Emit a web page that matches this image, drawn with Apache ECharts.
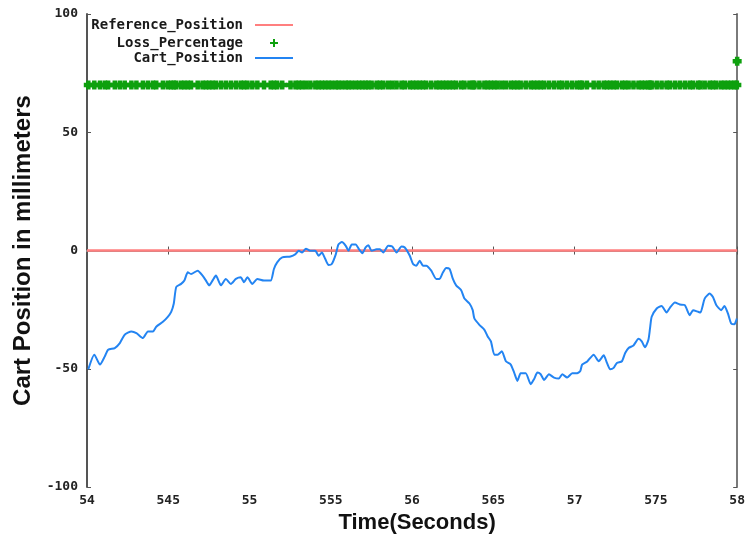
<!DOCTYPE html>
<html>
<head>
<meta charset="utf-8">
<script src="https://cdn.jsdelivr.net/npm/echarts@6/dist/echarts.min.js"></script>
<style>
  html, body { margin: 0; padding: 0; background: #ffffff; width: 100%; height: 100%; overflow: hidden; }
  #chart { width: 100vw; height: 100vh; }
</style>
</head>
<body>
<div id="chart"></div>
<script>
// Tick labels as printed on the axes
const xTickLabels = ['54', '545', '55', '555', '56', '565', '57', '575', '58'];
const yTickLabels = ['-100', '-50', '0', '50', '100'];

// Reference position (mm) over the run
const refTimes = [54, 58];
const refValues = [0, 0];

// Cart position samples: time (s) and position (mm)
const cartTimes = [
  54.008, 54.045, 54.080, 54.110, 54.130, 54.171, 54.202, 54.232, 54.273, 54.304,
  54.344, 54.375, 54.406, 54.426, 54.467, 54.497, 54.518, 54.534, 54.549, 54.579,
  54.599, 54.620, 54.640, 54.681, 54.711, 54.732, 54.752, 54.772, 54.793, 54.824,
  54.854, 54.885, 54.916, 54.946, 54.966, 54.987, 55.017, 55.048, 55.089, 55.130,
  55.150, 55.170, 55.201, 55.252, 55.283, 55.303, 55.323, 55.347, 55.374, 55.405,
  55.425, 55.445, 55.466, 55.486, 55.506, 55.531, 55.547, 55.568, 55.592, 55.609,
  55.629, 55.653, 55.674, 55.694, 55.714, 55.731, 55.751, 55.782, 55.802, 55.823,
  55.853, 55.878, 55.904, 55.935, 55.955, 55.986, 56.006, 56.026, 56.047, 56.067,
  56.087, 56.118, 56.149, 56.169, 56.190, 56.210, 56.231, 56.251, 56.271, 56.302,
  56.322, 56.353, 56.373, 56.383, 56.414, 56.445, 56.465, 56.485, 56.506, 56.526,
  56.552, 56.577, 56.607, 56.628, 56.648, 56.668, 56.699, 56.730, 56.750, 56.771,
  56.791, 56.812, 56.842, 56.873, 56.903, 56.924, 56.954, 56.985, 57.015, 57.035,
  57.046, 57.076, 57.117, 57.148, 57.179, 57.199, 57.219, 57.240, 57.260, 57.291,
  57.311, 57.332, 57.362, 57.393, 57.413, 57.433, 57.454, 57.464, 57.474, 57.505,
  57.535, 57.566, 57.586, 57.617, 57.647, 57.678, 57.708, 57.729, 57.760, 57.774,
  57.800, 57.831, 57.851, 57.872, 57.902, 57.922, 57.943, 57.963, 57.983, 57.998
];
const cartValues = [
  -50.2, -44.0, -48.2, -44.7, -41.9, -41.2, -39.1, -35.6, -34.2, -34.9,
  -37.0, -34.2, -34.2, -32.2, -30.1, -28.0, -25.9, -22.4, -15.4, -14.1,
  -12.7, -9.2, -9.9, -8.5, -10.6, -12.7, -14.7, -12.7, -10.6, -14.7,
  -12.0, -14.1, -12.0, -11.3, -13.4, -11.3, -14.1, -12.0, -12.7, -12.7,
  -7.8, -5.0, -2.9, -2.5, -1.5, -0.1, -0.8, 0.8, -0.1, -0.1,
  -2.2, -0.8, -3.6, -6.1, -5.7, -1.5, 2.6, 3.6, 2.0, -0.1,
  2.6, 2.6, 0.5, -1.1, 1.3, 2.2, -0.1, 0.5, 0.5, -0.8,
  2.0, 1.7, -0.8, 1.7, 1.3, -2.2, -5.7, -6.4, -4.3, -6.4,
  -6.4, -8.5, -12.0, -12.0, -9.2, -7.4, -7.8, -12.0, -14.7, -16.8,
  -20.3, -22.4, -25.2, -28.7, -31.4, -33.5, -36.3, -38.4, -44.0, -44.0,
  -42.6, -46.8, -48.2, -51.6, -55.1, -51.9, -51.9, -56.5, -54.4, -51.6,
  -52.3, -54.7, -52.3, -53.7, -54.1, -52.3, -53.7, -51.9, -51.9, -50.9,
  -48.2, -47.0, -44.0, -46.8, -44.3, -47.5, -50.2, -49.6, -47.5, -46.8,
  -43.3, -41.2, -40.1, -37.3, -38.4, -40.9, -37.7, -32.8, -28.0, -24.5,
  -23.4, -26.2, -24.2, -22.0, -22.8, -23.1, -27.3, -25.2, -25.9, -26.2,
  -20.3, -18.2, -19.6, -23.1, -25.2, -23.4, -26.6, -30.8, -31.2, -28.7
];

// Loss percentage, logged with every cart sample plus a final sample at 58 s
const lossTimes = cartTimes.concat([58.0]);
const lossValues = [
  70, 70, 70, 70, 70, 70, 70, 70, 70, 70,
  70, 70, 70, 70, 70, 70, 70, 70, 70, 70,
  70, 70, 70, 70, 70, 70, 70, 70, 70, 70,
  70, 70, 70, 70, 70, 70, 70, 70, 70, 70,
  70, 70, 70, 70, 70, 70, 70, 70, 70, 70,
  70, 70, 70, 70, 70, 70, 70, 70, 70, 70,
  70, 70, 70, 70, 70, 70, 70, 70, 70, 70,
  70, 70, 70, 70, 70, 70, 70, 70, 70, 70,
  70, 70, 70, 70, 70, 70, 70, 70, 70, 70,
  70, 70, 70, 70, 70, 70, 70, 70, 70, 70,
  70, 70, 70, 70, 70, 70, 70, 70, 70, 70,
  70, 70, 70, 70, 70, 70, 70, 70, 70, 70,
  70, 70, 70, 70, 70, 70, 70, 70, 70, 70,
  70, 70, 70, 70, 70, 70, 70, 70, 70, 70,
  70, 70, 70, 70, 70, 70, 70, 70, 70, 70,
  70, 70, 70, 70, 70, 70, 70, 70, 70, 70,
  80
];

const zip = (xs, ys) => xs.map((x, i) => [x, ys[i]]);

// Plus-shaped point markers: heavy one for the plot, lighter one for the legend key
const PLUS = 'path://M2.5,0H7.5V2.5H10V7.5H7.5V10H2.5V7.5H0V2.5H2.5Z';
const PLUS_KEY = 'path://M3,0H5V3H8V5H5V8H3V5H0V3H3Z';
const MONO = 'DejaVu Sans Mono';
const SANS = 'Liberation Sans';

const COLOR_REF = '#ff7f7f';
const COLOR_LOSS = '#0ea00e';
const COLOR_CART = '#2384f2';

const chart = echarts.init(document.getElementById('chart'), null, { renderer: 'canvas' });

const tickLabelStyle = {
  fontFamily: MONO, fontSize: 13, fontWeight: 'bold', color: '#222'
};

const legendText = (pad) => ({
  fontFamily: MONO, fontSize: 14, fontWeight: 'bold', color: '#1a1a1a', padding: [0, pad, 0, 0]
});

chart.setOption({
  animation: false,
  backgroundColor: '#ffffff',
  grid: { left: 87, right: 7, top: 14, bottom: 45, containLabel: false },
  legend: [
    {
      data: [{ name: 'Reference_Position', icon: 'rect' }],
      align: 'right', selectedMode: false, padding: 0, right: 455, top: 18,
      itemWidth: 38, itemHeight: 2, textStyle: legendText(7)
    },
    {
      data: [{ name: 'Loss_Percentage', icon: PLUS_KEY }],
      align: 'right', selectedMode: false, padding: 0, right: 470, top: 36,
      itemWidth: 8, itemHeight: 8, textStyle: legendText(22)
    },
    {
      data: [{ name: 'Cart_Position', icon: 'rect' }],
      align: 'right', selectedMode: false, padding: 0, right: 455, top: 51,
      itemWidth: 38, itemHeight: 2, textStyle: legendText(7)
    }
  ],
  xAxis: [
    {
      type: 'value', min: 54, max: 58, interval: 0.5, position: 'bottom',
      name: 'Time(Seconds)', nameLocation: 'middle', nameGap: 23,
      nameTextStyle: { fontFamily: SANS, fontSize: 22, fontWeight: 'bold', color: '#111', verticalAlign: 'top', padding: [0, 0, 0, 10] },
      axisLine: { show: true, lineStyle: { color: '#8c8c8c', width: 2 } },
      axisTick: { show: true, inside: true, length: 4, lineStyle: { color: '#555', width: 1 } },
      axisLabel: {
        show: true, margin: 7, showMaxLabel: true,
        formatter: (v, i) => xTickLabels[i],
        ...tickLabelStyle
      },
      splitLine: { show: false }
    },
    {
      type: 'value', min: 54, max: 58, interval: 0.5, position: 'top',
      axisLine: { show: true, lineStyle: { color: '#8c8c8c', width: 2 } },
      axisTick: { show: true, inside: true, length: 4, lineStyle: { color: '#555', width: 1 } },
      axisLabel: { show: false },
      splitLine: { show: false }
    }
  ],
  yAxis: [
    {
      type: 'value', min: -100, max: 100, interval: 50, position: 'left',
      name: 'Cart Position in millimeters', nameLocation: 'middle', nameGap: 52,
      nameTextStyle: { fontFamily: SANS, fontSize: 24, fontWeight: 'bold', color: '#111' },
      axisLine: { show: true, lineStyle: { color: '#555', width: 2 } },
      axisTick: { show: true, inside: true, length: 4, lineStyle: { color: '#555', width: 1 } },
      axisLabel: {
        show: true, margin: 9,
        formatter: (v, i) => yTickLabels[i],
        ...tickLabelStyle
      },
      splitLine: { show: false }
    },
    {
      type: 'value', min: -100, max: 100, interval: 50, position: 'right',
      axisLine: { show: true, lineStyle: { color: '#7a7a7a', width: 2 } },
      axisTick: { show: true, inside: true, length: 4, lineStyle: { color: '#555', width: 1 } },
      axisLabel: { show: false },
      splitLine: { show: false }
    }
  ],
  series: [
    {
      name: 'Reference_Position', type: 'line', xAxisIndex: 0, yAxisIndex: 0,
      data: zip(refTimes, refValues), symbol: 'none',
      lineStyle: { color: COLOR_REF, width: 2.5 },
      itemStyle: { color: COLOR_REF },
      z: 2
    },
    {
      name: 'Loss_Percentage', type: 'scatter', xAxisIndex: 0, yAxisIndex: 0,
      data: zip(lossTimes, lossValues), symbol: PLUS, symbolSize: 9, symbolKeepAspect: true,
      itemStyle: { color: COLOR_LOSS, opacity: 1 },
      z: 3
    },
    {
      name: 'Cart_Position', type: 'line', xAxisIndex: 0, yAxisIndex: 0,
      data: zip(cartTimes, cartValues), symbol: 'none', smooth: 0.2,
      lineStyle: { color: COLOR_CART, width: 2 },
      itemStyle: { color: COLOR_CART },
      z: 4
    }
  ]
});
window.addEventListener('resize', () => chart.resize());
</script>
</body>
</html>
